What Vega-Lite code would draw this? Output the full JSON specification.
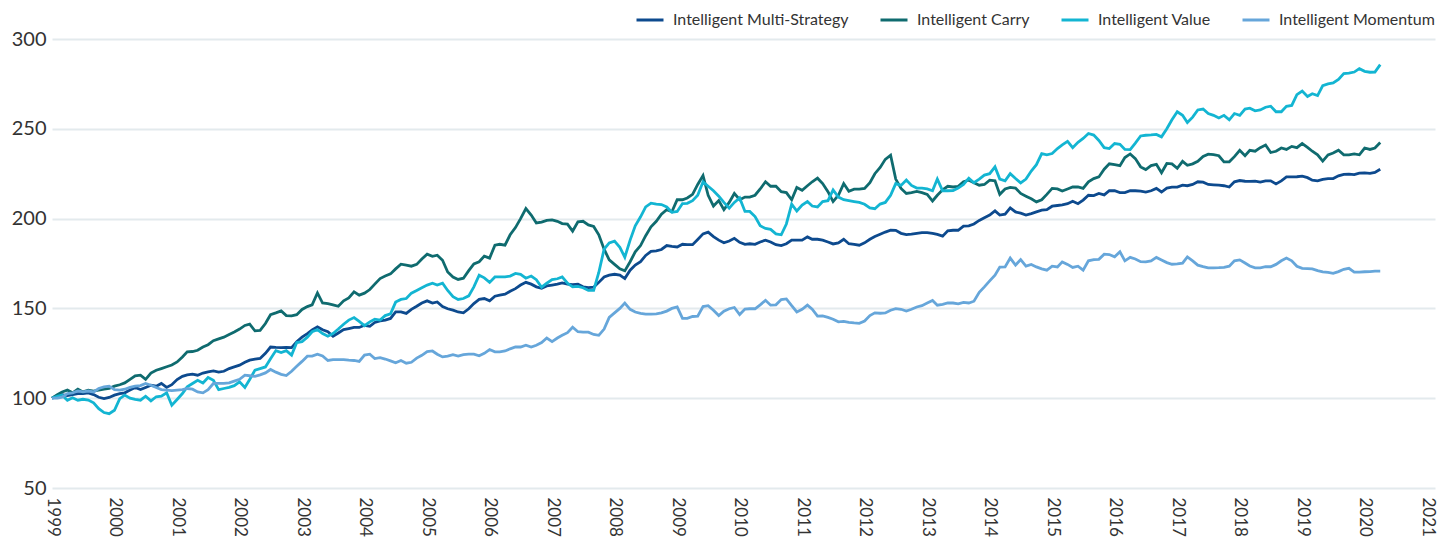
{
"$schema": "https://vega.github.io/schema/vega-lite/v6.json",
"width": 1383,
"height": 449,
"autosize": {"type": "none"},
"padding": {"left": 52, "top": 39, "right": 5, "bottom": 56},
"background": "white",
"datasets": {
"names": [
{"key": "ms", "series": "Intelligent Multi-Strategy"},
{"key": "c", "series": "Intelligent Carry"},
{"key": "v", "series": "Intelligent Value"},
{"key": "m", "series": "Intelligent Momentum"}
]
},
"data": {"values": [
{"d":"1999-01","ms":100,"c":100,"v":100,"m":100},
{"d":"1999-02","ms":101.5,"c":102,"v":101,"m":100},
{"d":"1999-03","ms":102,"c":103.5,"v":101.7,"m":100.6},
{"d":"1999-04","ms":101.5,"c":104.5,"v":98.8,"m":102.6},
{"d":"1999-05","ms":102,"c":103,"v":100.2,"m":103},
{"d":"1999-06","ms":102.5,"c":105,"v":98.9,"m":104.1},
{"d":"1999-07","ms":102.6,"c":103.5,"v":99.4,"m":103.5},
{"d":"1999-08","ms":103,"c":104.5,"v":99,"m":104},
{"d":"1999-09","ms":102,"c":104,"v":97.4,"m":103.5},
{"d":"1999-10","ms":100.5,"c":104.5,"v":94.2,"m":105.4},
{"d":"1999-11","ms":99.8,"c":105,"v":92,"m":106.3},
{"d":"1999-12","ms":100.4,"c":105.5,"v":91.4,"m":106.7},
{"d":"2000-01","ms":101.7,"c":106.7,"v":93.3,"m":104.8},
{"d":"2000-02","ms":102.5,"c":107.5,"v":99.8,"m":104.5},
{"d":"2000-03","ms":103,"c":108.5,"v":101.7,"m":105},
{"d":"2000-04","ms":104.5,"c":110.5,"v":100,"m":106},
{"d":"2000-05","ms":106,"c":112.5,"v":99.3,"m":106.7},
{"d":"2000-06","ms":104.8,"c":112.8,"v":98.9,"m":107},
{"d":"2000-07","ms":106,"c":110.5,"v":101.1,"m":108.2},
{"d":"2000-08","ms":107.2,"c":114,"v":98.5,"m":107.2},
{"d":"2000-09","ms":106.7,"c":115.6,"v":100.8,"m":106},
{"d":"2000-10","ms":108.2,"c":116.5,"v":101.1,"m":104.8},
{"d":"2000-11","ms":106,"c":117.5,"v":103,"m":104.5},
{"d":"2000-12","ms":107.5,"c":118.5,"v":96.1,"m":104.2},
{"d":"2001-01","ms":110.4,"c":120.2,"v":99.3,"m":104.5},
{"d":"2001-02","ms":112.2,"c":123,"v":102.6,"m":104.8},
{"d":"2001-03","ms":113,"c":125.8,"v":106.3,"m":105.4},
{"d":"2001-04","ms":113.4,"c":126,"v":108.2,"m":105},
{"d":"2001-05","ms":112.8,"c":126.7,"v":110,"m":103.5},
{"d":"2001-06","ms":114,"c":128.5,"v":108.5,"m":103},
{"d":"2001-07","ms":114.7,"c":129.8,"v":111.5,"m":104.8},
{"d":"2001-08","ms":115.2,"c":132,"v":110,"m":108.2},
{"d":"2001-09","ms":114.5,"c":133,"v":104.8,"m":108.2},
{"d":"2001-10","ms":115,"c":134,"v":105.4,"m":108.2},
{"d":"2001-11","ms":116.5,"c":135.5,"v":106,"m":108.5},
{"d":"2001-12","ms":117.4,"c":136.9,"v":107,"m":109.5},
{"d":"2002-01","ms":118.4,"c":138.5,"v":109.1,"m":110.5},
{"d":"2002-02","ms":120,"c":140.5,"v":106,"m":112.8},
{"d":"2002-03","ms":121.2,"c":141.2,"v":110.4,"m":112.5},
{"d":"2002-04","ms":121.7,"c":137.5,"v":115.6,"m":112.2},
{"d":"2002-05","ms":122.1,"c":137.8,"v":116.5,"m":113},
{"d":"2002-06","ms":125,"c":141.6,"v":117.4,"m":114.1},
{"d":"2002-07","ms":128.5,"c":146.5,"v":122,"m":116},
{"d":"2002-08","ms":128.3,"c":147.5,"v":126.5,"m":114.5},
{"d":"2002-09","ms":128.2,"c":148.6,"v":125.4,"m":113.3},
{"d":"2002-10","ms":128.3,"c":146,"v":126.5,"m":112.6},
{"d":"2002-11","ms":128.2,"c":145.8,"v":124,"m":115},
{"d":"2002-12","ms":131.5,"c":146.5,"v":131,"m":117.8},
{"d":"2003-01","ms":134,"c":149.4,"v":131.5,"m":120.5},
{"d":"2003-02","ms":136,"c":151,"v":134,"m":123.4},
{"d":"2003-03","ms":138,"c":152,"v":137,"m":123.4},
{"d":"2003-04","ms":139.7,"c":158.6,"v":138.2,"m":124.5},
{"d":"2003-05","ms":138.1,"c":153,"v":136,"m":123.5},
{"d":"2003-06","ms":137,"c":152.7,"v":134.5,"m":121},
{"d":"2003-07","ms":134.5,"c":152,"v":136,"m":121.5},
{"d":"2003-08","ms":136.3,"c":151.2,"v":138.5,"m":121.5},
{"d":"2003-09","ms":138.2,"c":154.2,"v":141.2,"m":121.5},
{"d":"2003-10","ms":138.8,"c":155.8,"v":143.5,"m":121.2},
{"d":"2003-11","ms":139.4,"c":159.2,"v":144.9,"m":121},
{"d":"2003-12","ms":139.4,"c":157.4,"v":142.8,"m":120.5},
{"d":"2004-01","ms":140.6,"c":158.5,"v":140.4,"m":124},
{"d":"2004-02","ms":140,"c":160.5,"v":142.5,"m":124.5},
{"d":"2004-03","ms":142.2,"c":163.5,"v":144,"m":122.1},
{"d":"2004-04","ms":143,"c":166.6,"v":143.5,"m":122.6},
{"d":"2004-05","ms":143.5,"c":168,"v":146,"m":121.8},
{"d":"2004-06","ms":144.4,"c":169.2,"v":147,"m":120.8},
{"d":"2004-07","ms":148.1,"c":172,"v":153.5,"m":119.7},
{"d":"2004-08","ms":148.1,"c":174.6,"v":155,"m":121},
{"d":"2004-09","ms":147.2,"c":174.1,"v":155.5,"m":119.5},
{"d":"2004-10","ms":149.5,"c":173.5,"v":158.5,"m":120},
{"d":"2004-11","ms":151.2,"c":174.5,"v":160,"m":122.3},
{"d":"2004-12","ms":153,"c":177.5,"v":161.5,"m":123.9},
{"d":"2005-01","ms":154.2,"c":180.2,"v":163,"m":126},
{"d":"2005-02","ms":153,"c":179,"v":164,"m":126.3},
{"d":"2005-03","ms":153.6,"c":179.6,"v":163,"m":124.5},
{"d":"2005-04","ms":151,"c":176.8,"v":164,"m":123},
{"d":"2005-05","ms":149.8,"c":170.3,"v":160,"m":123.4},
{"d":"2005-06","ms":149,"c":167.5,"v":156.5,"m":124.2},
{"d":"2005-07","ms":148,"c":166.1,"v":155,"m":123.5},
{"d":"2005-08","ms":147.5,"c":166.8,"v":155.5,"m":124.3},
{"d":"2005-09","ms":149.8,"c":171,"v":157,"m":124.5},
{"d":"2005-10","ms":152.7,"c":174.8,"v":162,"m":124.5},
{"d":"2005-11","ms":155,"c":176,"v":168.5,"m":123.6},
{"d":"2005-12","ms":155.5,"c":179.1,"v":167,"m":125},
{"d":"2006-01","ms":154.2,"c":178,"v":164.5,"m":127.1},
{"d":"2006-02","ms":156.8,"c":185.2,"v":167.5,"m":125.8},
{"d":"2006-03","ms":157.4,"c":185.7,"v":167.5,"m":125.8},
{"d":"2006-04","ms":157.9,"c":185.2,"v":167.6,"m":126.3},
{"d":"2006-05","ms":159.5,"c":191,"v":168,"m":127.5},
{"d":"2006-06","ms":161,"c":195,"v":169.5,"m":128.5},
{"d":"2006-07","ms":163,"c":200,"v":169,"m":128.5},
{"d":"2006-08","ms":164.5,"c":205.6,"v":166.8,"m":129.5},
{"d":"2006-09","ms":163.5,"c":202,"v":168,"m":128.5},
{"d":"2006-10","ms":162,"c":197.6,"v":166,"m":129.5},
{"d":"2006-11","ms":161.2,"c":198,"v":161.8,"m":131},
{"d":"2006-12","ms":162.5,"c":199,"v":164,"m":133.5},
{"d":"2007-01","ms":163,"c":199.3,"v":166,"m":131.5},
{"d":"2007-02","ms":163.5,"c":198.5,"v":166.5,"m":133.5},
{"d":"2007-03","ms":164.2,"c":197.2,"v":167.5,"m":135},
{"d":"2007-04","ms":163.5,"c":196.9,"v":164,"m":136.5},
{"d":"2007-05","ms":163.2,"c":193,"v":162,"m":139.5},
{"d":"2007-06","ms":163.5,"c":198.2,"v":162.3,"m":137},
{"d":"2007-07","ms":162,"c":198.5,"v":161.5,"m":136.8},
{"d":"2007-08","ms":161.6,"c":196.5,"v":160,"m":136.8},
{"d":"2007-09","ms":161.8,"c":195.6,"v":160,"m":135.5},
{"d":"2007-10","ms":164.5,"c":191,"v":170,"m":135},
{"d":"2007-11","ms":167.5,"c":183,"v":183,"m":138.5},
{"d":"2007-12","ms":168.5,"c":177,"v":186.5,"m":145},
{"d":"2008-01","ms":169,"c":174.5,"v":187.5,"m":147.5},
{"d":"2008-02","ms":168.5,"c":172,"v":184,"m":150},
{"d":"2008-03","ms":166.6,"c":170.9,"v":178.5,"m":153},
{"d":"2008-04","ms":171.3,"c":176,"v":188,"m":149.5},
{"d":"2008-05","ms":174.1,"c":181.5,"v":196,"m":148},
{"d":"2008-06","ms":176,"c":185,"v":201,"m":147.2},
{"d":"2008-07","ms":179.5,"c":190.5,"v":206.5,"m":146.8},
{"d":"2008-08","ms":181.8,"c":195.4,"v":208.6,"m":146.8},
{"d":"2008-09","ms":182,"c":198.5,"v":208,"m":147},
{"d":"2008-10","ms":182.8,"c":202.5,"v":207.8,"m":147.5},
{"d":"2008-11","ms":185,"c":205,"v":206.5,"m":148.5},
{"d":"2008-12","ms":184.5,"c":203.8,"v":203.5,"m":150},
{"d":"2009-01","ms":184.2,"c":210.5,"v":204,"m":150.8},
{"d":"2009-02","ms":185.7,"c":210.5,"v":208.4,"m":144.5},
{"d":"2009-03","ms":185.5,"c":211.5,"v":208.5,"m":144.5},
{"d":"2009-04","ms":185.5,"c":213.5,"v":210,"m":145.5},
{"d":"2009-05","ms":188.4,"c":219,"v":213,"m":145.7},
{"d":"2009-06","ms":191.5,"c":224,"v":220.5,"m":151},
{"d":"2009-07","ms":192.5,"c":213,"v":218,"m":151.5},
{"d":"2009-08","ms":190,"c":207,"v":215.5,"m":149},
{"d":"2009-09","ms":188,"c":210,"v":212.5,"m":146},
{"d":"2009-10","ms":186.5,"c":205,"v":209,"m":148.5},
{"d":"2009-11","ms":187.5,"c":209,"v":205.8,"m":149.8},
{"d":"2009-12","ms":189,"c":214,"v":209,"m":150.5},
{"d":"2010-01","ms":186.8,"c":210.5,"v":211.5,"m":146.6},
{"d":"2010-02","ms":185.7,"c":212,"v":204,"m":149.6},
{"d":"2010-03","ms":186,"c":212,"v":204,"m":149.8},
{"d":"2010-04","ms":185.7,"c":213,"v":201.1,"m":149.8},
{"d":"2010-05","ms":187,"c":216.5,"v":196,"m":152},
{"d":"2010-06","ms":188,"c":220.5,"v":194.5,"m":154.5},
{"d":"2010-07","ms":187,"c":218,"v":194,"m":151.8},
{"d":"2010-08","ms":185.5,"c":218,"v":191.5,"m":152},
{"d":"2010-09","ms":185,"c":215,"v":191,"m":154.9},
{"d":"2010-10","ms":186,"c":214.5,"v":197,"m":155.3},
{"d":"2010-11","ms":188,"c":210.5,"v":208,"m":151.5},
{"d":"2010-12","ms":188,"c":217.3,"v":204.2,"m":148},
{"d":"2011-01","ms":188,"c":215.8,"v":207.5,"m":149.5},
{"d":"2011-02","ms":189.8,"c":218.3,"v":209.5,"m":151.8},
{"d":"2011-03","ms":188.5,"c":220.5,"v":207,"m":149.6},
{"d":"2011-04","ms":188.5,"c":222.5,"v":206.5,"m":145.7},
{"d":"2011-05","ms":188,"c":219.5,"v":209.5,"m":145.8},
{"d":"2011-06","ms":187,"c":215,"v":210,"m":145},
{"d":"2011-07","ms":185.9,"c":209.5,"v":216,"m":144},
{"d":"2011-08","ms":186.5,"c":213,"v":212,"m":142.5},
{"d":"2011-09","ms":188.5,"c":219.5,"v":210.5,"m":142.8},
{"d":"2011-10","ms":186,"c":215.2,"v":210,"m":142.2},
{"d":"2011-11","ms":185.7,"c":216.4,"v":209.5,"m":141.9},
{"d":"2011-12","ms":185.2,"c":216.4,"v":209,"m":141.7},
{"d":"2012-01","ms":186.5,"c":216.8,"v":208,"m":143},
{"d":"2012-02","ms":188.5,"c":220,"v":206,"m":146},
{"d":"2012-03","ms":190,"c":225,"v":205.5,"m":147.5},
{"d":"2012-04","ms":191.3,"c":228.5,"v":208.1,"m":147.3},
{"d":"2012-05","ms":192.5,"c":233,"v":209,"m":147.5},
{"d":"2012-06","ms":193.6,"c":235.3,"v":213,"m":149},
{"d":"2012-07","ms":193.5,"c":222,"v":219.5,"m":149.9},
{"d":"2012-08","ms":191.8,"c":216.8,"v":218.5,"m":149.5},
{"d":"2012-09","ms":191.1,"c":214,"v":221.5,"m":148.5},
{"d":"2012-10","ms":191.3,"c":214.5,"v":218.5,"m":149.5},
{"d":"2012-11","ms":191.8,"c":215.1,"v":217,"m":150.8},
{"d":"2012-12","ms":192.2,"c":214.5,"v":217,"m":151.5},
{"d":"2013-01","ms":192.2,"c":213.5,"v":216.5,"m":153},
{"d":"2013-02","ms":191.8,"c":209.8,"v":215.5,"m":154.4},
{"d":"2013-03","ms":191.2,"c":213,"v":222,"m":151.8},
{"d":"2013-04","ms":190.2,"c":216,"v":215.5,"m":152.3},
{"d":"2013-05","ms":193.2,"c":218,"v":215.5,"m":153},
{"d":"2013-06","ms":193.5,"c":217.6,"v":215.6,"m":153},
{"d":"2013-07","ms":193.5,"c":218,"v":217,"m":152.5},
{"d":"2013-08","ms":195.8,"c":220.5,"v":219,"m":153.3},
{"d":"2013-09","ms":196,"c":221.4,"v":222.5,"m":153},
{"d":"2013-10","ms":197,"c":220,"v":220,"m":154},
{"d":"2013-11","ms":199,"c":218.6,"v":222,"m":159},
{"d":"2013-12","ms":200.5,"c":219,"v":224.2,"m":162},
{"d":"2014-01","ms":202,"c":221.4,"v":225,"m":165.3},
{"d":"2014-02","ms":204.3,"c":221,"v":228.8,"m":168.5},
{"d":"2014-03","ms":202,"c":213.5,"v":222,"m":173},
{"d":"2014-04","ms":202.5,"c":216.5,"v":221,"m":173.1},
{"d":"2014-05","ms":206,"c":217.4,"v":225,"m":178},
{"d":"2014-06","ms":203.7,"c":217,"v":222.3,"m":174.1},
{"d":"2014-07","ms":203,"c":214,"v":219.9,"m":177.2},
{"d":"2014-08","ms":202,"c":212.5,"v":222,"m":173.5},
{"d":"2014-09","ms":202.8,"c":211,"v":226.5,"m":174.5},
{"d":"2014-10","ms":203.7,"c":209.3,"v":230,"m":173.1},
{"d":"2014-11","ms":204.7,"c":210.5,"v":236.2,"m":172},
{"d":"2014-12","ms":205,"c":213.5,"v":235.5,"m":171.3},
{"d":"2015-01","ms":206.9,"c":216.8,"v":236.2,"m":173.5},
{"d":"2015-02","ms":207.3,"c":216.5,"v":239,"m":173.1},
{"d":"2015-03","ms":207.7,"c":215.4,"v":241,"m":175.9},
{"d":"2015-04","ms":208.3,"c":216.5,"v":243,"m":174.5},
{"d":"2015-05","ms":209.7,"c":217.6,"v":239.5,"m":172.8},
{"d":"2015-06","ms":208.3,"c":217.6,"v":242.5,"m":173.5},
{"d":"2015-07","ms":210.3,"c":216.8,"v":244.6,"m":171.3},
{"d":"2015-08","ms":213,"c":220.5,"v":247.4,"m":176.5},
{"d":"2015-09","ms":212.8,"c":222.3,"v":246.5,"m":177.2},
{"d":"2015-10","ms":214,"c":223.2,"v":243.5,"m":177.3},
{"d":"2015-11","ms":213.2,"c":227.5,"v":239.5,"m":180.2},
{"d":"2015-12","ms":215.5,"c":230.5,"v":239,"m":180},
{"d":"2016-01","ms":215.5,"c":230,"v":241.8,"m":178.7},
{"d":"2016-02","ms":214.5,"c":229.5,"v":241.4,"m":181.5},
{"d":"2016-03","ms":214.5,"c":234,"v":238.5,"m":176.5},
{"d":"2016-04","ms":215.5,"c":236,"v":238.4,"m":178.4},
{"d":"2016-05","ms":215.5,"c":233.4,"v":242,"m":177.5},
{"d":"2016-06","ms":215.3,"c":228.8,"v":246,"m":176},
{"d":"2016-07","ms":214.8,"c":227.3,"v":246.4,"m":175.9},
{"d":"2016-08","ms":215.5,"c":229.5,"v":246.6,"m":176.5},
{"d":"2016-09","ms":216.8,"c":230.2,"v":246.9,"m":178.4},
{"d":"2016-10","ms":214.8,"c":225.5,"v":245.5,"m":177},
{"d":"2016-11","ms":217,"c":230.7,"v":250,"m":175.5},
{"d":"2016-12","ms":217.5,"c":230.5,"v":255,"m":174.6},
{"d":"2017-01","ms":217.5,"c":228,"v":259.5,"m":174.8},
{"d":"2017-02","ms":218.6,"c":231.9,"v":257.5,"m":175.2},
{"d":"2017-03","ms":218.3,"c":229.7,"v":253.5,"m":178.7},
{"d":"2017-04","ms":219,"c":230.5,"v":256.5,"m":176.5},
{"d":"2017-05","ms":220.5,"c":231.9,"v":260.5,"m":174.1},
{"d":"2017-06","ms":220.3,"c":234.6,"v":261,"m":173.3},
{"d":"2017-07","ms":219,"c":235.9,"v":258.5,"m":172.6},
{"d":"2017-08","ms":218.8,"c":235.6,"v":257.5,"m":172.6},
{"d":"2017-09","ms":218.6,"c":235,"v":256,"m":172.7},
{"d":"2017-10","ms":218.3,"c":231.6,"v":257.5,"m":172.9},
{"d":"2017-11","ms":217.6,"c":231.6,"v":255,"m":173.5},
{"d":"2017-12","ms":220.5,"c":234.5,"v":258.5,"m":176.5},
{"d":"2018-01","ms":221.2,"c":238,"v":257.5,"m":177},
{"d":"2018-02","ms":220.8,"c":235,"v":261,"m":175.3},
{"d":"2018-03","ms":220.7,"c":238,"v":261.5,"m":173.6},
{"d":"2018-04","ms":220.8,"c":237.5,"v":260,"m":172.6},
{"d":"2018-05","ms":220.3,"c":239.5,"v":260.5,"m":172.6},
{"d":"2018-06","ms":221,"c":241,"v":262,"m":173.2},
{"d":"2018-07","ms":221,"c":236.8,"v":262.6,"m":173.2},
{"d":"2018-08","ms":219.3,"c":237.5,"v":259.5,"m":174.5},
{"d":"2018-09","ms":221,"c":239.3,"v":259.5,"m":176.5},
{"d":"2018-10","ms":223.2,"c":238.5,"v":262.5,"m":178},
{"d":"2018-11","ms":223.2,"c":240.2,"v":263,"m":176.5},
{"d":"2018-12","ms":223.3,"c":239.5,"v":269,"m":173.5},
{"d":"2019-01","ms":223.6,"c":241.8,"v":271,"m":172.3},
{"d":"2019-02","ms":222.8,"c":239.7,"v":268,"m":172.2},
{"d":"2019-03","ms":221.4,"c":237.5,"v":269.5,"m":172},
{"d":"2019-04","ms":221,"c":235.5,"v":268.5,"m":171},
{"d":"2019-05","ms":221.8,"c":232,"v":274,"m":170.3},
{"d":"2019-06","ms":222.3,"c":235.5,"v":275,"m":170},
{"d":"2019-07","ms":222.3,"c":236.5,"v":275.5,"m":169.5},
{"d":"2019-08","ms":223.8,"c":238.1,"v":277.5,"m":170.5},
{"d":"2019-09","ms":224.6,"c":235.5,"v":280.7,"m":171.8},
{"d":"2019-10","ms":224.8,"c":235.5,"v":281,"m":172.3},
{"d":"2019-11","ms":224.5,"c":236,"v":281.6,"m":170.2},
{"d":"2019-12","ms":225.3,"c":235.5,"v":283.5,"m":170.2},
{"d":"2020-01","ms":225.5,"c":239.3,"v":282,"m":170.4},
{"d":"2020-02","ms":225.2,"c":238.5,"v":281.5,"m":170.5},
{"d":"2020-03","ms":225.7,"c":239.3,"v":281.6,"m":170.7},
{"d":"2020-04","ms":227.5,"c":242.4,"v":285.7,"m":170.7}
]},
"transform": [
{"fold": ["ms", "c", "v", "m"], "as": ["key", "value"]},
{"lookup": "key", "from": {"data": {"name": "names"}, "key": "key", "fields": ["series"]}}
],
"mark": {"type": "line", "strokeWidth": 2.8, "interpolate": "linear"},
"encoding": {
"x": {
"field": "d", "type": "temporal",
"scale": {"type": "utc", "domain": [{"year": 1999, "month": 1, "date": 1, "utc": true}, {"year": 2021, "month": 2, "date": 15, "utc": true}]},
"axis": {"title": null, "format": "%Y", "tickCount": {"interval": "year", "step": 1}, "labelAngle": 90, "labelFontSize": 17, "labelColor": "#333333", "grid": false, "domain": false, "ticks": false, "tickSize": 0, "labelPadding": 9, "labelOverlap": false, "labelFlush": false, "labelBound": false}
},
"y": {
"field": "value", "type": "quantitative",
"scale": {"domain": [50, 300], "nice": false, "zero": false},
"axis": {"title": null, "values": [50, 100, 150, 200, 250, 300], "grid": true, "gridColor": "#e3eaed", "gridWidth": 2, "domain": false, "ticks": false, "tickSize": 0, "labelPadding": 6, "labelFontSize": 20, "labelColor": "#333333"}
},
"color": {
"field": "series", "type": "nominal",
"scale": {"domain": ["Intelligent Multi-Strategy", "Intelligent Carry", "Intelligent Value", "Intelligent Momentum"], "range": ["#0d4a8e", "#0f6b6f", "#13b5d2", "#66a6da"]},
"legend": {"title": null, "orient": "none", "legendX": 583, "legendY": -34, "direction": "horizontal", "symbolType": "stroke", "symbolSize": 729, "symbolStrokeWidth": 3, "labelFontSize": 16, "labelColor": "#333333", "labelOffset": 8, "columnPadding": 25, "labelLimit": 0}
}
},
"config": {
"view": {"stroke": null},
"font": "Lato",
"axis": {"labelFont": "Lato"},
"legend": {"labelFont": "Lato"}
}
}
